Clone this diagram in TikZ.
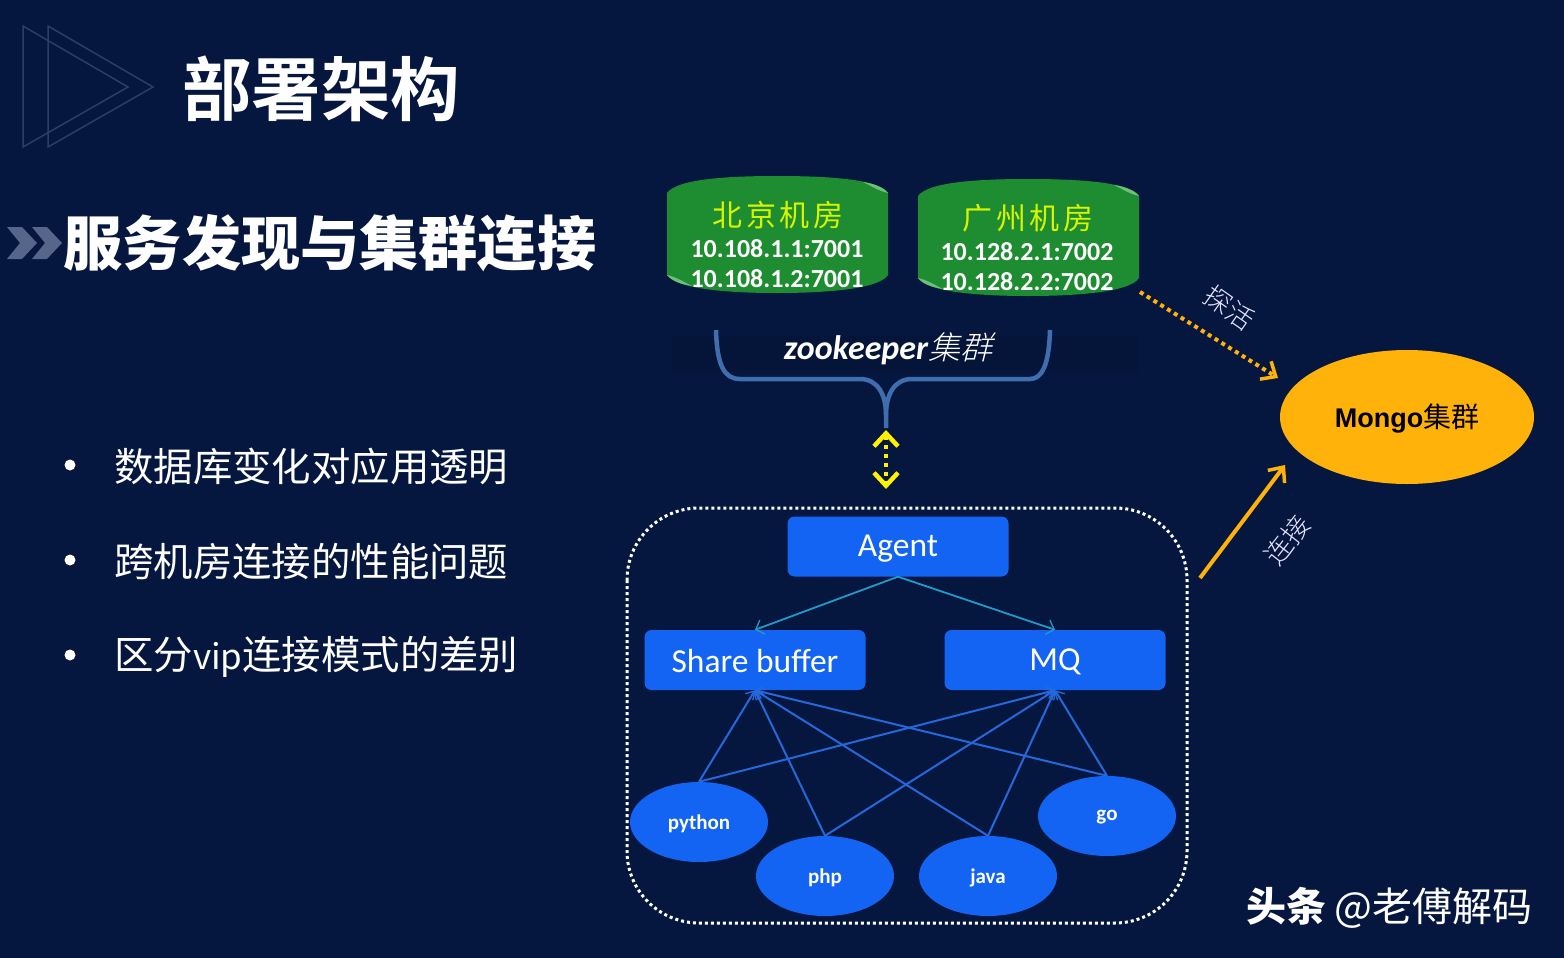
\documentclass[tikz,border=0pt]{standalone}
\usepackage{fontspec}
\usetikzlibrary{shapes.geometric,arrows.meta}
\setmainfont{Carlito}
\newfontfamily\cjk{Noto Sans CJK SC}
\newfontfamily\cjkb{Noto Sans CJK SC Bold}
\newfontfamily\cjkh{Noto Sans CJK SC Black}
\newfontfamily\cjkl{Noto Sans CJK SC Light}
\newfontfamily\cjkroom[LetterSpace=12]{Noto Sans CJK SC}
\newfontfamily\cjkslant[FakeSlant=0.25]{Noto Sans CJK SC Light}
\newfontfamily\arialb{Liberation Sans Bold}
\definecolor{bg}{HTML}{05163F}
\definecolor{boxblue}{HTML}{1464F4}
\definecolor{green1}{HTML}{1E8C30}
\definecolor{green2}{HTML}{6CC07A}
\definecolor{amber}{HTML}{FFB20A}
\definecolor{cyanline}{HTML}{1E9BC8}
\definecolor{blueline}{HTML}{2468DC}
\definecolor{bracket}{HTML}{3F6DAE}
\definecolor{tri}{HTML}{2A3F66}
\definecolor{chev}{HTML}{55668A}
\definecolor{lime}{HTML}{D8F500}
\newcommand{\fs}[1]{\fontsize{#1}{#1}\selectfont}
\newcommand{\lowered}[2]{\raisebox{-#1pt}[\height][\depth]{#2}}
\newcommand{\cylshape}[2]{%
  \fill[green1] (#1,#2+17) .. controls (#1+10,#2+3) and (#1+60,#2) .. (#1+110,#2)
    .. controls (#1+160,#2) and (#1+212,#2+3) .. (#1+221,#2+17) -- (#1+221,#2+99)
    .. controls (#1+212,#2+113) and (#1+160,#2+117) .. (#1+110,#2+117)
    .. controls (#1+60,#2+117) and (#1+10,#2+113) .. (#1,#2+99) -- cycle;
  \fill[green2] (#1+221,#2+17) .. controls (#1+216,#2+11) and (#1+208,#2+8) .. (#1+196,#2+6)
    .. controls (#1+206,#2+11) and (#1+212,#2+15) .. (#1+221,#2+17) -- cycle;
  \fill[green2] (#1,#2+99) .. controls (#1+5,#2+105) and (#1+13,#2+108) .. (#1+25,#2+110)
    .. controls (#1+15,#2+105) and (#1+9,#2+101) .. (#1,#2+99) -- cycle;}
\tikzset{
  x=1pt,y=-1pt,
  bluebox/.style={draw=none,fill=boxblue,rounded corners=7pt,minimum width=221pt,minimum height=60pt,inner sep=0pt,text=white,font=\fs{33.5}},
  lang/.style={ellipse,draw=none,fill=boxblue,minimum width=138pt,minimum height=80pt,inner sep=0pt,text=white,font=\bfseries\fs{21}},
  uparrow/.style={draw=blueline,line width=2pt,-{Straight Barb[length=7pt,width=13pt,line width=1.4pt]}},
  downarrow/.style={draw=cyanline,line width=1.8pt,-{Straight Barb[length=7pt,width=15pt,line width=1.3pt]}},
  bullettext/.style={anchor=west,text=white,inner sep=0pt,font=\cjk\fs{39.4}},
  ip/.style={text=white,inner sep=0pt,font=\bfseries\fs{26}},
  room/.style={text=lime,inner sep=0pt,font=\cjkroom\fs{30}},
}
\begin{document}
\begin{tikzpicture}
\useasboundingbox (0,0) rectangle (1564,958);
\fill[bg] (0,0) rectangle (1564,958);
% decoration
\draw[tri,line width=1.5pt,line join=miter] (23,26) -- (23,147) -- (128,87) -- cycle;
\draw[tri,line width=1.5pt,line join=miter] (48,26) -- (48,147) -- (153,87) -- cycle;
\fill[chev] (7,227) -- (22,227) -- (37,243) -- (22,259) -- (7,259) -- (20,243) -- cycle;
\fill[chev] (32,227) -- (47,227) -- (62,243) -- (47,259) -- (32,259) -- (45,243) -- cycle;
% titles
\node[anchor=center,text=white,inner sep=0pt,font=\cjkb\fs{69.5}] (title) at (321,89) {部署架构};
\node[anchor=center,text=white,inner sep=0pt,font=\cjkh\fs{59.2}] (subtitle) at (330,243) {服务发现与集群连接};
% bullets
\fill[white] (70,465) circle (5.5);
\fill[white] (70,560) circle (5.5);
\fill[white] (70,655) circle (5.5);
\node[bullettext] (b1) at (114,466) {数据库变化对应用透明};
\node[bullettext] (b2) at (114,562) {跨机房连接的性能问题};
\node[bullettext] (b3) at (114,657) {区分{\fs{35}vip}连接模式的差别};
% clusters
\cylshape{667}{176}
\cylshape{918}{179}
\node[room] (bjname) at (778,215) {北京机房};
\node[ip] (bj1) at (777,249) {10.108.1.1:7001};
\node[ip] (bj2) at (777,279) {10.108.1.2:7001};
\node[room] (gzname) at (1028,218) {广州机房};
\node[ip] (gz1) at (1027,252) {10.128.2.1:7002};
\node[ip] (gz2) at (1027,282) {10.128.2.2:7002};
% zookeeper
\fill[bg!90!black] (672,336) rectangle (1138,372);
\node[text=white,inner sep=0pt,font=\bfseries\itshape\fs{34}] (zk) at (888,349) {zookeeper{\cjkslant\mdseries\upshape\fs{32}集群}};
\coordinate (brL) at (716,330);
\coordinate (brR) at (1050,330);
\coordinate (brB) at (886,428);
\draw[bracket,line width=4.5pt] (brL) .. controls (717,365) and (724,379) .. (740,379) -- (860,379)
   .. controls (878,379) and (886,395) .. (886,415) -- (brB);
\draw[bracket,line width=4.5pt] (brR) .. controls (1049,365) and (1042,379) .. (1030,379) -- (912,379)
   .. controls (894,379) and (886,395) .. (886,415);
% group
\draw[white,line width=3pt,dash pattern=on 3pt off 3pt,rounded corners=72pt] (627,508) rectangle (1187,923);
\node[bluebox] (agent) at (898,546.5) {\lowered{2}{Agent}};
\node[bluebox] (share) at (755,660) {\lowered{1}{Share buffer}};
\node[bluebox] (mq) at (1055,660) {\lowered{2}{MQ}};
\node[lang] (python) at (699,822) {\lowered{1.5}{python}};
\node[lang] (php) at (825,876) {\lowered{1.5}{php}};
\node[lang] (java) at (988,876) {\lowered{1.5}{java}};
\node[lang] (go) at (1107,816) {\lowered{1.5}{go}};
\draw[downarrow] (agent.south) -- (share.north);
\draw[downarrow] (agent.south) -- (mq.north);
\foreach \n in {python,php,java,go}{
  \draw[uparrow] (\n.north) -- (share.south);
  \draw[uparrow] (\n.north) -- (mq.south);
}
% yellow link
\coordinate (yT) at (886,430);
\coordinate (yB) at (886,489);
\draw[yellow,line width=4.5pt,dash pattern=on 4.5pt off 4.5pt,{Straight Barb[length=13pt,width=24pt,line width=4.5pt]}-{Straight Barb[length=13pt,width=24pt,line width=4.5pt]}] (yT) -- (yB);
% mongo
\node[ellipse,fill=amber,draw=none,minimum width=254pt,minimum height=134pt,inner sep=0pt] (mongo) at (1407,417) {};
\node[inner sep=0pt,text=black,font=\arialb\fs{27}] (mongotxt) at (1407,419) {Mongo{\cjk\fs{28}集群}};
\coordinate (dotS) at (1140,292);
\coordinate (dotE) at (1278,378);
\coordinate (conS) at (1200,578);
\coordinate (conE) at (1285,465);
\draw[amber,line width=4pt,dash pattern=on 4pt off 4pt,-{Straight Barb[length=12pt,width=21pt,line width=3.5pt]}] (dotS) -- (dotE);
\draw[amber,line width=4pt,-{Straight Barb[length=12pt,width=21pt,line width=3.5pt]}] (conS) -- (conE);
\node[rotate=-35,inner sep=0pt,text=white!90!blue,font=\cjkl\fs{27}] (probe) at (1229,308) {探活};
\node[rotate=52,inner sep=0pt,text=white!90!blue,font=\cjkl\fs{27}] (conn) at (1287,540) {连接};
% watermark
\node[anchor=east,inner sep=0pt,text=white,font=\cjk\fs{40}] (wm) at (1533,908) {{\cjkh 头条} @老傅解码};
\end{tikzpicture}
\end{document}
